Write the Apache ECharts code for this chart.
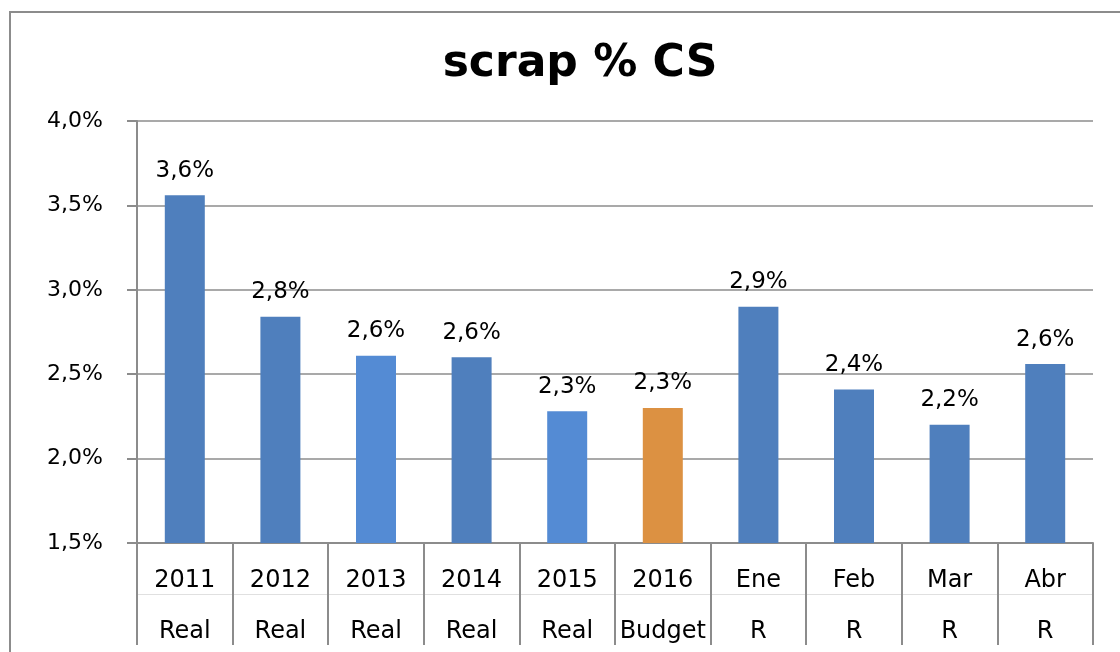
<!DOCTYPE html>
<html>
<head>
<meta charset="utf-8">
<script src="https://cdn.jsdelivr.net/npm/echarts@6/dist/echarts.min.js"></script>
<style>
  html, body { margin: 0; padding: 0; background: #fff; }
  #chart { width: 1120px; height: 652px; }
</style>
</head>
<body>
<div id="chart"></div>
<script>
// ---- data ----
const chartTitle = 'scrap % CS';
const periods = ['2011', '2012', '2013', '2014', '2015', '2016', 'Ene', 'Feb', 'Mar', 'Abr'];
const periodTypes = ['Real', 'Real', 'Real', 'Real', 'Real', 'Budget', 'R', 'R', 'R', 'R'];
const scrapPct = [3.56, 2.84, 2.61, 2.60, 2.28, 2.30, 2.90, 2.41, 2.20, 2.56];
const yTicks = { min: 1.5, max: 4.0, step: 0.5 };

// ---- styles ----
const barColors = ['#4F7FBD', '#4F7FBD', '#548BD4', '#4F7FBD', '#548BD4', '#DC9142', '#4F7FBD', '#4F7FBD', '#4F7FBD', '#4F7FBD'];
const font = 'DejaVu Sans';
const fmtPct = v => v.toFixed(1).replace('.', ',') + '%';

const chart = echarts.init(document.getElementById('chart'));
chart.setOption({
  animation: false,
  backgroundColor: '#fff',
  graphic: [{
    type: 'rect',
    shape: { x: 10, y: 12, width: 1200, height: 800 },
    style: { fill: 'none', stroke: '#8c8c8c', lineWidth: 2 },
    silent: true
  }],
  title: {
    text: chartTitle,
    left: 575,
    top: 38,
    textAlign: 'center',
    textStyle: { fontFamily: font, fontSize: 44, fontWeight: 'bold', color: '#000' }
  },
  grid: { left: 137, right: 27, top: 121, bottom: 109, containLabel: false },
  xAxis: [{
    type: 'category',
    data: periods,
    position: 'bottom',
    axisLine: { show: true, lineStyle: { color: '#8c8c8c', width: 2 } },
    axisTick: { show: true, interval: 0, length: 102, alignWithLabel: false, lineStyle: { color: '#8c8c8c', width: 2 } },
    axisLabel: { interval: 0, margin: 26, fontFamily: font, fontSize: 24, color: '#000' }
  }, {
    type: 'category',
    data: periodTypes,
    position: 'bottom',
    offset: 51,
    axisLine: { show: true, lineStyle: { color: '#e0e0e0', width: 1 } },
    axisTick: { show: false },
    axisLabel: { interval: 0, margin: 26, fontFamily: font, fontSize: 24, color: '#000' }
  }],
  yAxis: {
    type: 'value',
    min: yTicks.min,
    max: yTicks.max,
    interval: yTicks.step,
    axisLine: { show: true, lineStyle: { color: '#8c8c8c', width: 2 } },
    axisTick: { show: true, length: 10, lineStyle: { color: '#8c8c8c', width: 2 } },
    axisLabel: { margin: 34, padding: [10, 0, 0, 0], fontFamily: font, fontSize: 22, color: '#000', formatter: fmtPct },
    splitLine: { show: true, lineStyle: { color: '#8c8c8c', width: 1.5 } }
  },
  series: [{
    type: 'bar',
    xAxisIndex: 0,
    barWidth: 40,
    data: scrapPct.map((v, i) => ({ value: v, itemStyle: { color: barColors[i] } })),
    label: {
      show: true,
      position: 'top',
      distance: 13,
      fontFamily: font,
      fontSize: 23,
      color: '#000',
      formatter: p => fmtPct(p.value)
    }
  }]
});
</script>
</body>
</html>
